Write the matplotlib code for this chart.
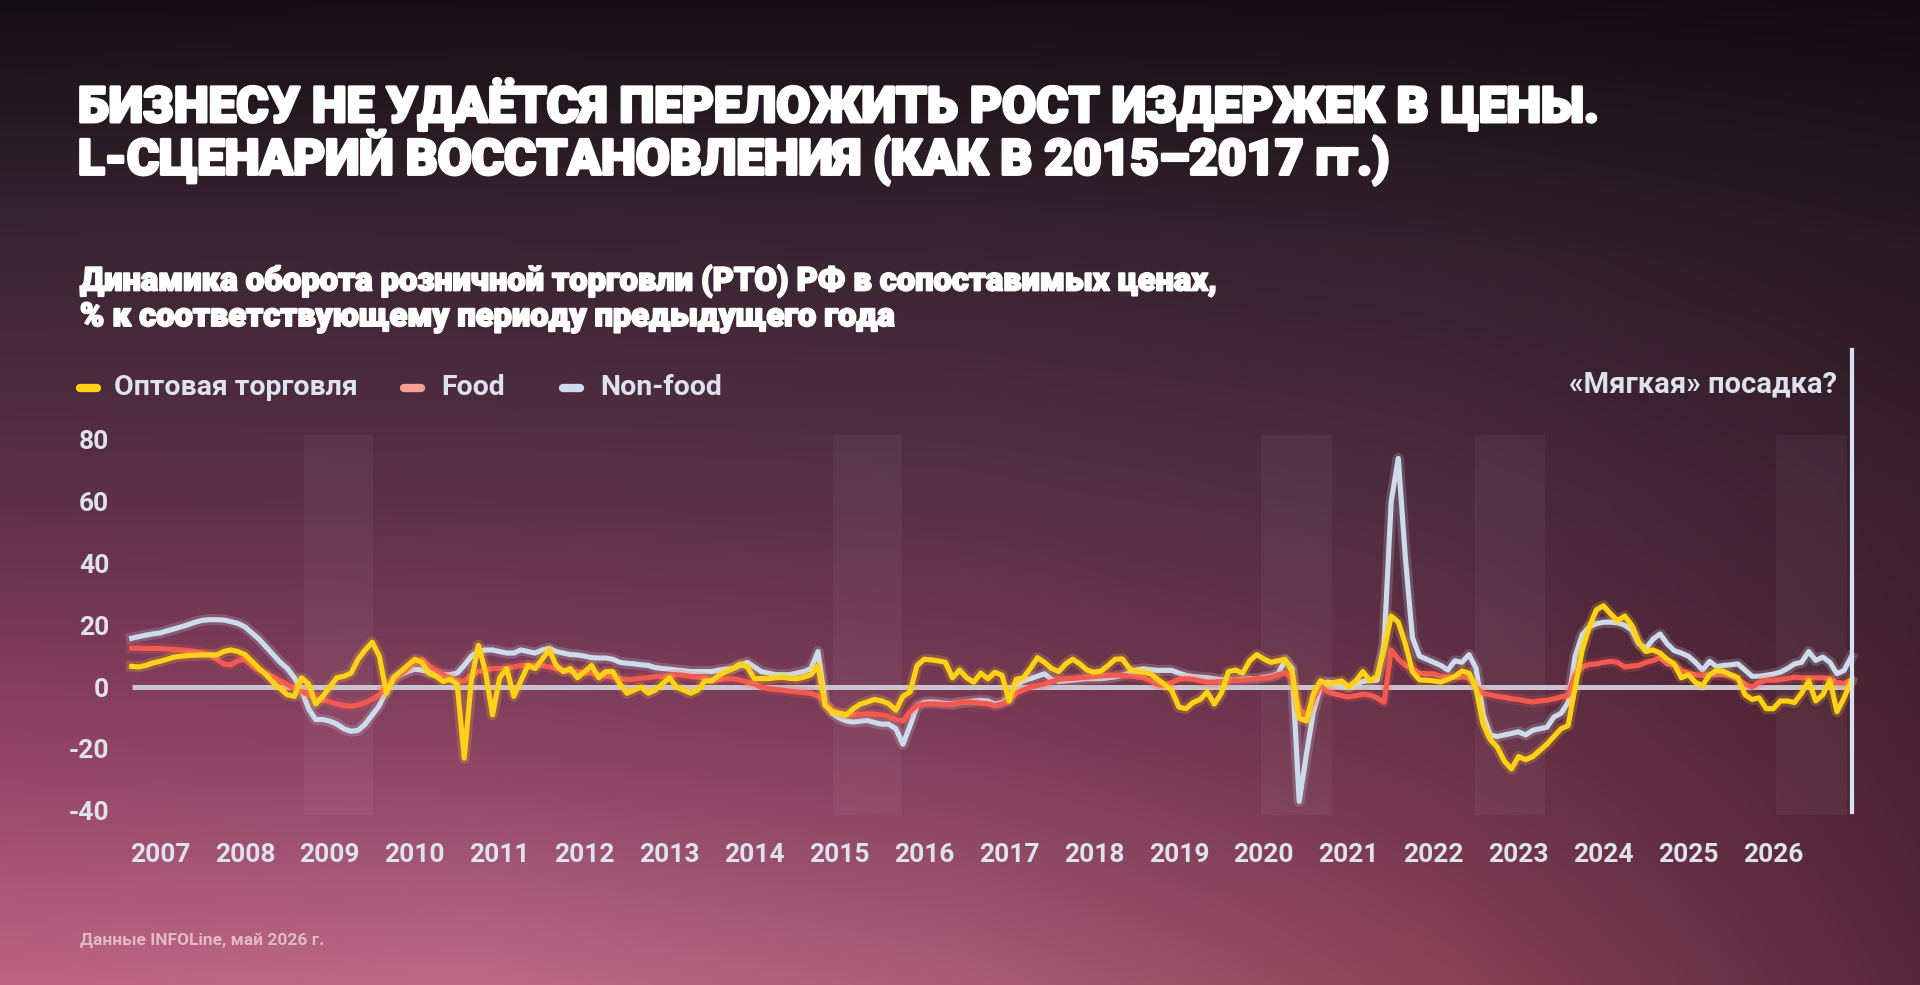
import numpy as np
import matplotlib
matplotlib.use("Agg")
import matplotlib.pyplot as plt
import matplotlib.patheffects as pe
from matplotlib.colors import to_rgb
from matplotlib.lines import Line2D

# ---------------- data (monthly, y/y %) ----------------
start_year = 2006 + 8 / 12  # first monthly observation

wholesale = [
    6.7, 6.5, 7, 7.8, 8.3, 9, 9.7, 10, 10.2, 10.3, 10.4, 10.4, 10.4, 11.5, 12, 11.5, 10.5, 8.3, 6, 4,
    1.5, -0.5, -2.5, -3, 3, 1, -5.5, -3, 0, 3, 3.5, 4.5, 9, 12, 14.5, 10, -2, 3, 5, 7, 9, 8,
    4.5, 3.5, 1.8, 2.5, 1, -23, 2, 13.5, 5, -9, 3, 6, -3, 2, 7, 6, 9, 12, 7, 5,
    6, 3, 5, 7, 3, 5, 5, 1, -2, -1, 0, -2, -1, 1, 3, 0, -1, -2, -1, 2,
    2, 3.8, 5, 6, 7.5, 6.5, 2.7, 2.7, 2.7, 3, 3.2, 2.8, 2.7, 3.2, 4, 7, -5.9, -8, -8.5, -9,
    -7, -5.5, -4.8, -4, -4.5, -5.4, -7.5, -3, -1.6, 7, 9, 8.8, 8.5, 8, 3, 5.5, 3, 1.6, 4.5, 2.7, 4.8,
    3.8, -4.5, 2.5, 3, 6, 9.5, 8, 6, 5, 7.5, 9, 7.5, 5.5, 4.8, 5.2, 7, 9, 9.1, 6, 5,
    4.8, 4.3, 2.5, 0.8, -1.2, -6.5, -7, -5, -4, -1.6, -5.5, -2, 5, 5.5, 4.5, 8.5, 10.5, 9.1, 8, 8.5, 9,
    5, -10, -11, -2.2, 2, 1, 1.5, 2, 0, 2, 5, 2, 3.5, 12, 23, 21, 14, 5, 2.3, 2.2,
    2, 1.6, 2.5, 3.5, 5.2, 4.5, -0.5, -12, -17, -19.5, -24, -26.5, -22.5, -23.5, -22.5, -20.5, -18.5, -16, -13.5, -12.5, 0,
    12, 19.5, 25, 26.3, 23.7, 21.5, 23, 20, 14.5, 11.5, 12, 11, 9, 7.5, 3, 4, 1.5, 0.5, 4, 5.4,
    5, 4, 3, -2.5, -4, -3.5, -7, -7, -4.5, -4.5, -5, -2, 2, -4.5, -2.5, 2.2, -8, -3.5, 2,
]

food = [
    12.6, 12.6, 12.5, 12.5, 12.5, 12.3, 12.2, 12, 11.8, 11.5, 11, 10.5, 9, 7.5, 7.2, 8.5, 9, 7, 5.5, 4.5,
    3.3, 2, 0.8, -0.5, -1.4, -2.5, -3.5, -4.2, -4.8, -5.5, -6, -6.2, -5.8, -5, -4, -2.5, 0.5, 2.5, 4, 6, 8, 9,
    7, 5.5, 4, 3, 2, 2, 4, 5, 5.5, 6, 6, 6, 6.5, 7, 7, 7, 7, 6.5, 6, 5.5,
    5, 5, 4.5, 4.5, 4, 3.5, 3.2, 2.8, 2.4, 2.5, 2.9, 3, 3.4, 3.4, 3.6, 4, 3.8, 3.4, 3.2, 3,
    2.3, 2.4, 2.6, 2.7, 2.3, 1.6, 1, 0, -0.5, -0.8, -1, -1.3, -1.6, -1.8, -2, -3, -5, -7.5, -8.3, -8.8,
    -9, -8.8, -8.6, -8.8, -9, -9.5, -10.5, -11, -8, -6, -5.5, -5.4, -5.5, -5.6, -5.6, -5, -4.8, -5, -5.2, -5.4, -6,
    -5.5, -4, -2, -1, 0, 0.5, 1, 1.8, 2.5, 2.7, 2.8, 3, 3.2, 3.4, 3.6, 3.8, 3.8, 3.8, 3.6, 3.3,
    3, 2, 0.8, 0.5, 1.5, 2.5, 2.7, 2.5, 2, 1.6, 1.6, 1.8, 2, 2.2, 2.3, 2.5, 2.7, 2.9, 3.2, 4, 4.5,
    3, -7, -9.5, -4, 0.5, -1.5, -2.2, -2.8, -3.2, -2.8, -2.3, -2.6, -3.5, -5, 12, 9, 7, 6, 4.5, 4.3,
    4.3, 3.5, 3.2, 3.2, 3.2, 3, 0, -2, -2.5, -3, -3.3, -3.8, -4, -4.5, -4.8, -4.5, -4.3, -3.8, -3.2, -2.7, 4,
    6.5, 7.3, 7.5, 8, 8.3, 8, 6.5, 6.8, 7, 8, 8.6, 9.5, 7.5, 7, 5.5, 4.5, 4, 3.8, 4, 4,
    4, 3.5, 2.5, 1, 0, 1.5, 2.2, 2.2, 2.4, 2.8, 3.2, 3, 3, 3, 3, 2.7, 1.5, 1.2, 2.2,
]

nonfood = [
    15.8, 16.3, 16.8, 17.2, 17.5, 18.2, 18.8, 19.5, 20.2, 21, 21.6, 21.8, 21.8, 21.7, 21.2, 20.6, 19.5, 17.5, 15.5, 13,
    10.5, 8, 6, 3, -1, -7, -10.5, -10.5, -11, -12, -13.5, -14.3, -14, -12, -9, -6, -1, 2.5, 4, 5, 5.8, 5.5,
    5, 4.5, 4, 4, 4.5, 7, 10, 11.5, 12, 12, 11.5, 11, 11, 12, 11.5, 11, 12, 12.5, 11.5, 11,
    10.5, 10.4, 10, 9.5, 9.4, 9.4, 9, 8, 7.7, 7.5, 7.2, 7, 6.3, 6, 5.8, 5.5, 5.3, 5, 5, 5,
    5, 5.5, 5.8, 6, 7, 8, 6.5, 5, 4.5, 4, 4, 4, 4.5, 5, 6, 11.5, -5, -8.5, -10, -11,
    -11.3, -11, -10.8, -11.5, -12, -12, -13.5, -18.5, -12.5, -6, -5, -4.8, -5, -5.3, -5.4, -5, -4.8, -4.5, -4.3, -4.5, -5.5,
    -5, -3.5, 0.5, 2, 2.7, 3.5, 4.3, 2.5, 1.8, 2, 2.2, 2.5, 2.7, 2.7, 2.7, 3, 3.3, 3.8, 4.5, 5.5,
    5.9, 5.6, 5.4, 5.4, 5.4, 4.5, 3.8, 3.4, 3.2, 3, 2.7, 2.4, 2.2, 2.3, 2.5, 2.7, 2.7, 3.2, 3.5, 4.3, 8.6,
    6, -37, -22, -8, 0, 1.6, 1.2, 0.5, 0, 1, 1.8, 2.2, 2.2, 14, 60, 74, 42, 16, 10, 9,
    8, 7, 5.5, 8.5, 8, 10.5, 6, -9, -15.5, -16, -15.5, -15, -14.5, -15.5, -14, -13.5, -13, -9.7, -8.5, -5, 10,
    17, 19.5, 20.5, 21, 21, 20.8, 20, 18.5, 14, 12.5, 15.5, 17.2, 14, 11.8, 11, 10, 8, 5.5, 8.3, 6.6,
    7, 7.2, 7.5, 5.5, 3.5, 3.5, 3.8, 4.2, 4.8, 6, 7.5, 8, 11.5, 8.6, 9.7, 8, 4.3, 5.4, 9.7,
]

series_names = ["Оптовая торговля", "Food", "Non-food"]
year_ticks = list(range(2007, 2027))
y_ticks = [-40, -20, 0, 20, 40, 60, 80]
crisis_bands = [(2008.70, 2009.51), (2014.93, 2015.74), (2019.97, 2020.80),
                (2022.49, 2023.31), (2026.03, 2026.87)]

title_lines = ["БИЗНЕСУ НЕ УДАЁТСЯ ПЕРЕЛОЖИТЬ РОСТ ИЗДЕРЖЕК В ЦЕНЫ.",
               "L-СЦЕНАРИЙ ВОССТАНОВЛЕНИЯ (КАК В 2015–2017 гг.)"]
subtitle_lines = ["Динамика оборота розничной торговли (РТО) РФ в сопоставимых ценах,",
                  "% к соответствующему периоду предыдущего года"]
annotation = "«Мягкая» посадка?"
source = "Данные INFOLine, май 2026 г."

# ---------------- styling ----------------
C_YEL = "#ffd21a"
C_FOOD = "#f25a50"
C_NF = "#cddbec"
C_TXT = "#dde2ec"
FONT = ["Roboto", "DejaVu Sans"]

W, H = 1920, 985
fig = plt.figure(figsize=(W / 100, H / 100), dpi=100)

# background gradient
bg = fig.add_axes([0, 0, 1, 1], zorder=-10)
grid_hex = [
    ["#140f13", "#161014", "#161014", "#150f13", "#120c10"],
    ["#3a2633", "#3a2532", "#382431", "#33212c", "#2a1a22"],
    ["#5c2f47", "#5a3048", "#563046", "#4d2b3e", "#3a1f2c"],
    ["#904262", "#884262", "#7e3c58", "#6a3249", "#4a2232"],
    ["#bc6482", "#bc6a86", "#aa5c76", "#8a4258", "#55283a"],
]
g = np.array([[to_rgb(c) for c in row] for row in grid_hex])
ny, nx = 200, 390
yy = np.linspace(0, 4, ny)
xx = np.linspace(0, 4, nx)
img = np.zeros((ny, nx, 3))
for ch in range(3):
    tmp = np.array([np.interp(xx, np.arange(5), g[r, :, ch]) for r in range(5)])
    img[:, :, ch] = np.array([np.interp(yy, np.arange(5), tmp[:, j]) for j in range(nx)]).T
bg.imshow(img, aspect="auto", extent=[0, 1, 0, 1], interpolation="bicubic")
bg.set_xlim(0, 1); bg.set_ylim(0, 1)
bg.axis("off")

# main axes
ax = fig.add_axes([124.6 / W, 1 - 826.1 / H, (1865 - 124.6) / W, (826.1 - 341) / H])
ax.patch.set_alpha(0)
for s in ax.spines.values():
    s.set_visible(False)

n = len(wholesale)
t = start_year + np.arange(n) / 12.0

for a, b in crisis_bands:
    ax.fill_between([a, b], -41.5, 81.5, color="white", alpha=0.045, lw=0, zorder=0)

ax.plot([t[0], t[-1]], [0, 0], color="#c9c4cf", lw=3.6, zorder=1, solid_capstyle="butt")

for vals, col, z in [(nonfood, C_NF, 2), (food, C_FOOD, 3), (wholesale, C_YEL, 4)]:
    ax.plot(t, vals[:n], color=col, lw=8, alpha=0.2, zorder=z, solid_joinstyle="round")
    ax.plot(t, vals[:n], color=col, lw=3.7, zorder=z + 0.5, solid_joinstyle="round")

ax.plot([t[-1] + 0.01, t[-1] + 0.01], [-40.5, 109], color="#d6e2f0", lw=3, zorder=5, clip_on=False)

ax.set_xlim(start_year - 1 / 12, 2027.08)
ax.set_ylim(-45, 112)
ax.set_yticks(y_ticks)
ax.set_yticklabels([str(v) for v in y_ticks], fontsize=19, fontweight="bold", color=C_TXT, family=FONT)
ax.set_xticks(year_ticks)
ax.set_xticklabels([str(v) for v in year_ticks], fontsize=19, fontweight="bold", color=C_TXT, family=FONT)
ax.tick_params(axis="both", length=0)
ax.tick_params(axis="y", pad=11)
ax.tick_params(axis="x", pad=12)

# titles
heavy = [pe.withStroke(linewidth=2.2, foreground="white")]
for i, line in enumerate(title_lines):
    fig.text(78 / W, 1 - (106 + 52 * i) / H, line, fontsize=35.5, fontweight="black", color="white",
             family=FONT, va="center", ha="left", path_effects=heavy)
heavy2 = [pe.withStroke(linewidth=1.4, foreground="white")]
for i, line in enumerate(subtitle_lines):
    fig.text(80 / W, 1 - (281 + 36 * i) / H, line, fontsize=23.5, fontweight="black", color="white",
             family=FONT, va="center", ha="left", path_effects=heavy2)

# legend
leg_y = 1 - 388 / H
for (x0, x1, tx), col, name in zip([(80, 97, 114), (404, 421, 441), (563, 580, 600)],
                                   [C_YEL, "#f4a094", C_NF], series_names):
    fig.add_artist(Line2D([x0 / W, x1 / W], [leg_y, leg_y], color=col, lw=6, solid_capstyle="round"))
    fig.text(tx / W, leg_y, name, fontsize=20.5, fontweight="bold", color=C_TXT, family=FONT,
             va="center", ha="left")

fig.text(1837 / W, 1 - 384 / H, annotation, fontsize=21, fontweight="bold", color=C_TXT,
         family=FONT, va="center", ha="right")
fig.text(80 / W, 1 - 940 / H, source, fontsize=12.5, fontweight="bold", color="#ecd0d8",
         alpha=0.8, family=FONT, va="center", ha="left")

fig.savefig("out.png", dpi=100)
